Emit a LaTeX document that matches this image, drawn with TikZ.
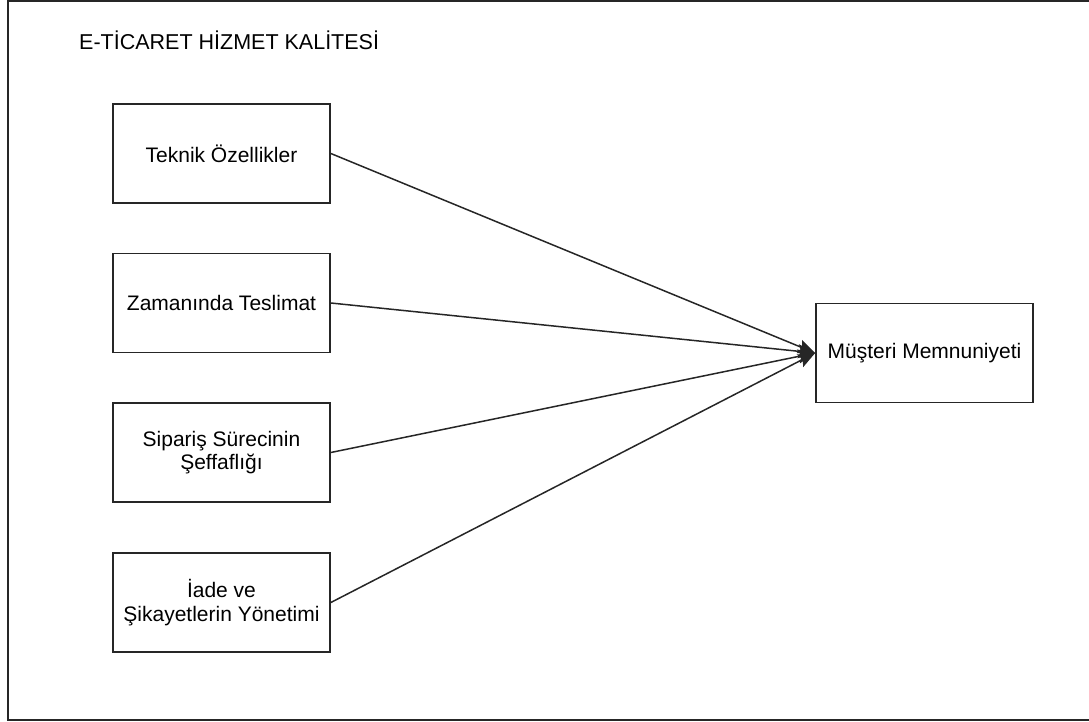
\documentclass[tikz,border=0pt]{standalone}
\usepackage{fontspec}
\setmainfont{Liberation Sans}
\usetikzlibrary{arrows.meta}
\begin{document}
\begin{tikzpicture}[x=1pt,y=-1pt,
  factor/.style={draw=black!85,line width=1.7pt,minimum width=217pt,minimum height=99pt,
    align=center,font=\fontsize{21}{23.5}\selectfont,inner sep=2pt},
  conn/.style={draw=black!85,line width=1.5pt,-{Stealth[length=17pt,width=14pt,inset=3pt]}}]
\useasboundingbox (0,0) rectangle (1089,722);
\draw[line width=1.8pt,black!85] (1089,1) -- (8,1) -- (8,720) -- (1089,720);
\node[anchor=west,font=\fontsize{21.5}{24}\selectfont,inner sep=0pt] (title) at (79,40) {E-TİCARET HİZMET KALİTESİ};
\node[factor] (f1) at (221.5,153.5) {Teknik Özellikler};
\node[factor] (f2) at (221.5,303) {Zamanında Teslimat};
\node[factor] (f3) at (221.5,452.5) {Sipariş Sürecinin\\Şeffaflığı};
\node[factor] (f4) at (221.5,602.5) {İade ve\\Şikayetlerin Yönetimi};
\node[factor] (t) at (924.5,353) {Müşteri Memnuniyeti};
\foreach \n in {f1,f2,f3,f4}{\draw[conn] (\n.east) -- (t.west);}
\end{tikzpicture}
\end{document}
